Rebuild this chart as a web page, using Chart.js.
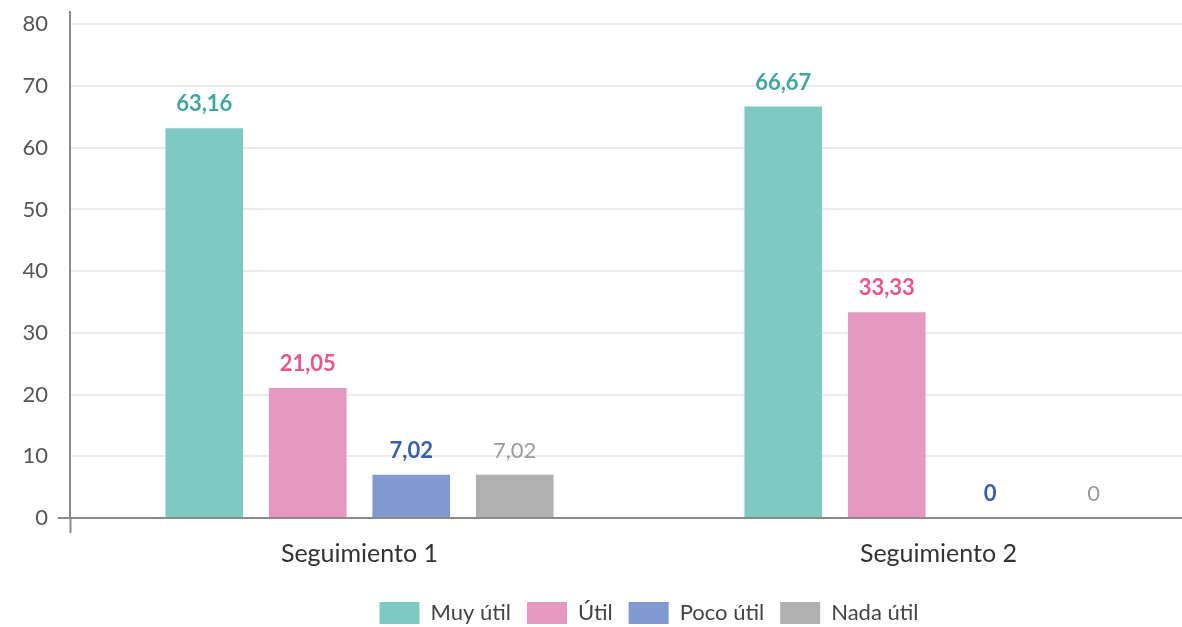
<!DOCTYPE html>
<html lang="es">
<head>
<meta charset="utf-8">
<title>Utilidad del seguimiento</title>
<script src="https://cdn.jsdelivr.net/npm/chart.js@4"></script>
<style>
  html, body { margin: 0; padding: 0; background: #fff; overflow: hidden; }
  .wrap { position: relative; width: 1298px; height: 627px; }
</style>
</head>
<body>
<div class="wrap"><canvas id="utilChart"></canvas></div>
<script>
// ── Data ──
const categories = ['Seguimiento 1', 'Seguimiento 2'];
const seriesNames = ['Muy útil', 'Útil', 'Poco útil', 'Nada útil'];
const muyUtil  = [63.16, 66.67];
const util     = [21.05, 33.33];
const pocoUtil = [7.02, 0];
const nadaUtil = [7.02, 0];
const yTicks   = [0, 10, 20, 30, 40, 50, 60, 70, 80];

const barColors   = ['#7fc9c3', '#e598c0', '#8099d1', '#b0b0b0'];
const labelColors = ['#42a6a0', '#e8568c', '#3a5fae', '#9a9a9a'];
const labelWeight = ['bold', 'bold', 'bold', 'normal'];

const FONT = 'Lato';
const AXIS = '#8a8a8a';

// number as "63,16"
const fmt = v => String(v).replace('.', ',');

// ── value labels above each bar ──
const valueLabels = {
  id: 'valueLabels',
  afterDatasetsDraw(chart) {
    const { ctx } = chart;
    chart.data.datasets.forEach((ds, i) => {
      const meta = chart.getDatasetMeta(i);
      ctx.save();
      ctx.font = `${labelWeight[i]} 22px ${FONT}`;
      ctx.fillStyle = labelColors[i];
      ctx.textAlign = 'center';
      ctx.textBaseline = 'middle';
      meta.data.forEach((bar, j) => {
        ctx.fillText(fmt(ds.data[j]), bar.x, bar.y - 24);
      });
      ctx.restore();
    });
  },
};

const datasets = [muyUtil, util, pocoUtil, nadaUtil].map((data, i) => ({
  label: seriesNames[i],
  data,
  backgroundColor: barColors[i],
  borderWidth: 0,
  barPercentage: 0.75,
  categoryPercentage: 0.715,
}));

new Chart(document.getElementById('utilChart'), {
  type: 'bar',
  data: { labels: categories, datasets },
  plugins: [valueLabels],
  options: {
    responsive: true,
    maintainAspectRatio: false,
    animation: false,
    layout: { padding: { top: 12, right: 0, left: 0, bottom: -7 } },
    plugins: {
      tooltip: { enabled: false },
      legend: {
        position: 'bottom',
        labels: {
          font: { family: FONT, size: 22 },
          color: '#444',
          boxWidth: 40,
          boxHeight: 22,
          padding: 16,
        },
      },
    },
    scales: {
      x: {
        offset: true,
        afterFit: scale => { scale.height += 11; },
        border: { color: AXIS, width: 2 },
        grid: {
          drawOnChartArea: false,
          tickLength: 15,
          tickWidth: 2,
          tickColor: ctx => (ctx.index === 0 ? AXIS : 'rgba(0,0,0,0)'),
        },
        ticks: {
          font: { family: FONT, size: 25 },
          color: '#333',
          padding: 6,
        },
      },
      y: {
        min: 0,
        max: 82,
        afterBuildTicks: axis => {
          axis.ticks = yTicks.map(v => ({ value: v }));
        },
        afterFit: scale => {
          scale.width = 70;
          scale.paddingTop = 0;
          scale.paddingBottom = 0;
        },
        border: { color: AXIS, width: 2 },
        grid: {
          color: ctx => (ctx.tick && ctx.tick.value === 0 ? 'rgba(0,0,0,0)' : '#ececec'),
          lineWidth: 2,
          tickLength: 12,
          tickWidth: 2,
          tickColor: ctx => (ctx.tick && ctx.tick.value === 0 ? AXIS : 'rgba(0,0,0,0)'),
        },
        ticks: {
          font: { family: FONT, size: 22 },
          color: '#555',
          padding: 10,
        },
      },
      // empty right-hand spacer so the plot and legend sit like the original
      spacer: {
        type: 'linear',
        position: 'right',
        afterFit: scale => {
          scale.width = 70;
          scale.paddingTop = 0;
          scale.paddingBottom = 0;
        },
        border: { display: false },
        grid: { display: false },
        ticks: { display: false },
      },
    },
  },
});
</script>
</body>
</html>
